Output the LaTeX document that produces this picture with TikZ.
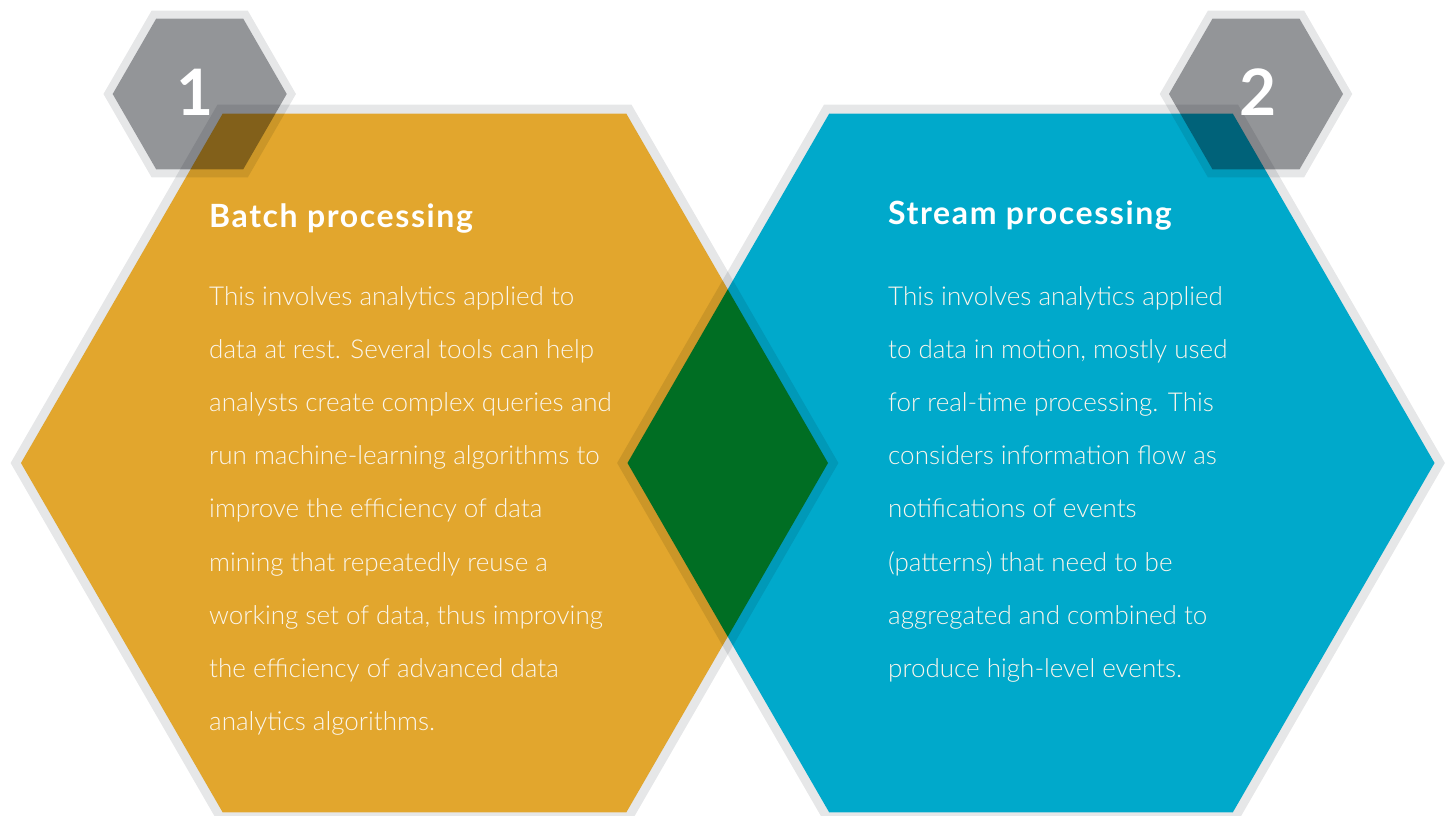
\documentclass[tikz,border=0pt]{standalone}
\usepackage{fontspec}
\IfFontExistsTF{Lato Light}
  {\setmainfont{Lato}[UprightFont=* Light, BoldFont=* Bold]}
  {\setmainfont{Lato}}
\newfontfamily\headfont{Lato}[UprightFont=* Bold, LetterSpace=5]
\usetikzlibrary{positioning}
\definecolor{batch}{HTML}{E2A62D}
\definecolor{stream}{HTML}{00A9CB}
\definecolor{badge}{HTML}{939598}
\definecolor{rim}{HTML}{E6E7E8}
\definecolor{ink}{HTML}{FBF6EC}
\tikzset{
    title/.style={anchor=base west, inner sep=0pt, text=white,
        font=\fontsize{32}{32}\headfont},
    body/.style={anchor=base west, inner sep=0pt, text=ink,
        font=\fontsize{26}{26}\selectfont},
    num/.style={inner sep=0pt, text=white,
        font=\fontsize{64}{64}\selectfont\bfseries}
}
% centre, radius, rim width, fill colour
\newcommand{\hexcell}[4]{%
    \pgfmathsetmacro{\ro}{#2+#3/sqrt(3)}
    \draw[draw=rim, line width=#3pt, line join=miter] (#1) +(0:\ro) -- +(60:\ro)
        -- +(120:\ro) -- +(180:\ro) -- +(240:\ro) -- +(300:\ro) -- cycle;
    \fill[#4] (#1) +(0:#2) -- +(60:#2) -- +(120:#2) -- +(180:#2)
        -- +(240:#2) -- +(300:#2) -- cycle;
}

\begin{document}
\begin{tikzpicture}[x=1pt, y=-1pt]
	\useasboundingbox (0,0) rectangle (1446,816);
	\coordinate (a) at (424.5,463);
	\coordinate (b) at (1031,463);
	\coordinate (c) at (199.7,94);
	\coordinate (d) at (1256,94);
	\begin{scope}[blend mode=multiply]
		\hexcell{a}{403.5}{9}{batch}
		\hexcell{b}{403.5}{9}{stream}
		\hexcell{c}{87}{8}{badge}
		\hexcell{d}{87}{8}{badge}
	\end{scope}
	\node [num] (n1) at (195,92) {1};
	\node [num] (n2) at (1258,92) {2};
	\node [title] (t1) at (209,227) {Batch processing};
	\node [title] (t2) at (888,224) {Stream processing};
	\foreach \ln [count=\i] in {This involves analytics applied to,
		data at rest. Several tools can help,
		analysts create complex queries and,
		run machine-learning algorithms to,
		improve the efficiency of data,
		mining that repeatedly reuse a,
		{working set of data, thus improving},
		the efficiency of advanced data,
		analytics algorithms.}
		\node [body] (l\i) at (209,{305+53.2*(\i-1)}) {\ln};
	\foreach \ln [count=\i] in {This involves analytics applied,
		{to data in motion, mostly used},
		for real-time processing. This,
		considers information flow as,
		notifications of events,
		(patterns) that need to be,
		aggregated and combined to,
		produce high-level events.}
		\node [body] (r\i) at (888,{305+53.2*(\i-1)}) {\ln};
\end{tikzpicture}
\end{document}
